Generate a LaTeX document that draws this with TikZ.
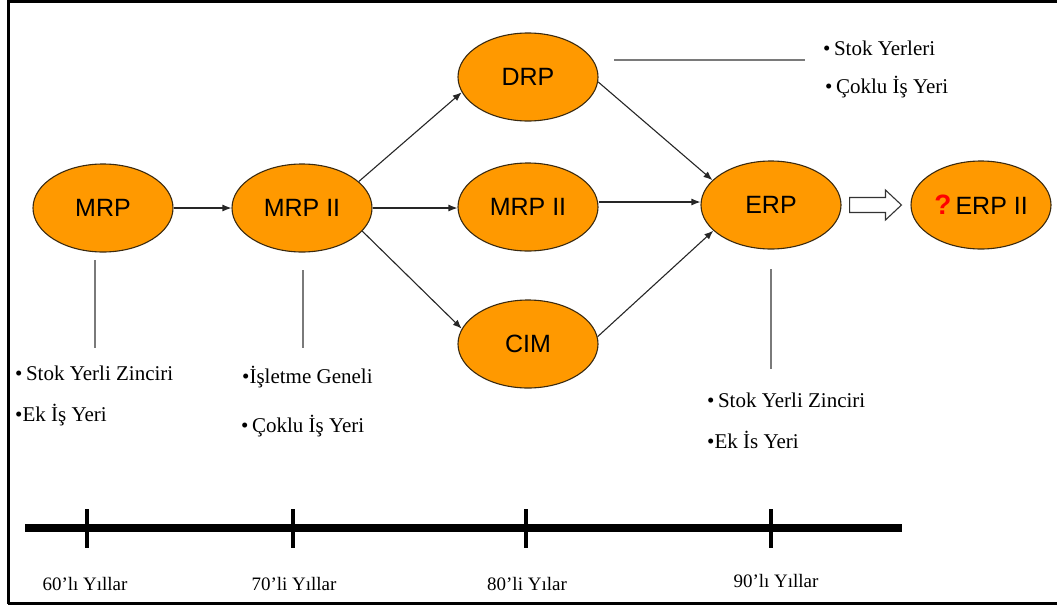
\documentclass[tikz,border=0pt]{standalone}
\usepackage{fontspec}
\setmainfont{Liberation Serif}
\newfontfamily\sansf{Liberation Sans}
\usetikzlibrary{shapes.geometric,arrows.meta,calc}
\definecolor{orng}{HTML}{FF9900}
\definecolor{edgeol}{HTML}{3A2A10}
\definecolor{lgray}{HTML}{7A7A7A}
\tikzset{
  oval/.style={ellipse, draw=edgeol, line width=1.1pt, fill=orng, minimum width=140pt, minimum height=88pt, inner sep=0pt, font=\sansf\fontsize{25}{25}\selectfont},
  arr/.style={-{Latex[length=9pt,width=7pt]}, line width=1.1pt, draw=black!85},
  gline/.style={draw=lgray, line width=1.8pt},
  note/.style={anchor=base west, inner sep=0pt, font=\fontsize{21}{21}\selectfont},
  year/.style={anchor=base, inner sep=0pt, font=\fontsize{19}{19}\selectfont},
  hollow/.style={draw=black!80, line width=1.1pt, fill=white, line join=miter},
  frame/.style={line width=3pt, draw=black},
  axis/.style={line width=8pt, draw=black},
  tick/.style={line width=4pt, draw=black}
}
\begin{document}
\begin{tikzpicture}[x=1pt,y=-1pt]
\useasboundingbox (0,0) rectangle (1057,608);
% frame
\draw[frame] (8,1) -- (1057,1);
\draw[frame] (8,0) -- (8,604);
\draw[frame] (8,603) -- (1057,603);

% nodes
\node[oval] (mrp) at (103,208) {MRP};
\node[oval] (mrp2) at (302,208) {MRP II};
\node[oval] (drp) at (528,77) {DRP};
\node[oval] (mid) at (528,207) {MRP II};
\node[oval] (cim) at (528,344) {CIM};
\node[oval] (erp) at (771,205) {ERP};
\node[oval] (erp2) at (981,205) {{\color{red}\bfseries\fontsize{28}{28}\selectfont ?}\,ERP II};

% hollow arrow between ERP and ERP II
\coordinate (ha) at ($(erp.east)+(8,0)$);
\coordinate (hb) at ($(erp2.west)+(-9,0)$);
\draw[hollow] ($(ha)+(0,-7.5)$) -- ($(hb)+(-16,-7.5)$) -- ($(hb)+(-16,-15)$) -- (hb)
  -- ($(hb)+(-16,15)$) -- ($(hb)+(-16,7.5)$) -- ($(ha)+(0,7.5)$) -- cycle;

% connectors
\draw[arr] (mrp.east) -- (mrp.east -| mrp2.west);
\draw[arr] (mrp2.25) -- (drp.193);
\draw[arr] (mrp2.east) -- (mrp2.east -| mid.west);
\draw[arr] (mrp2.-21) -- (cim.167);
\draw[arr] (drp.-4) -- (erp.157);
\draw[arr] ([yshift=5pt]mid.east) -- ([yshift=5pt]mid.east -| erp.west);
\draw[arr] (cim.6) -- (erp.204);

% gray lines
\coordinate (g1a) at (95,260); \coordinate (g1b) at (95,348);
\coordinate (g2a) at (303,270); \coordinate (g2b) at (303,348);
\coordinate (g3a) at (771,269); \coordinate (g3b) at (771,369);
\coordinate (g4a) at (614,60); \coordinate (g4b) at (805,60);
\draw[gline] (g1a) -- (g1b);
\draw[gline] (g2a) -- (g2b);
\draw[gline] (g3a) -- (g3b);
\draw[gline] (g4a) -- (g4b);

% notes
\node[note] (n1) at (15,380) {\textbullet\,Stok Yerli Zinciri};
\node[note] (n2) at (15,421) {\textbullet Ek İş Yeri};
\node[note] (n3) at (242,383) {\textbullet İşletme Geneli};
\node[note] (n4) at (241,432) {\textbullet\,Çoklu İş Yeri};
\node[note] (n5) at (823,55) {\textbullet\,Stok Yerleri};
\node[note] (n6) at (825,93) {\textbullet\,Çoklu İş Yeri};
\node[note] (n7) at (707,407) {\textbullet\,Stok Yerli Zinciri};
\node[note] (n8) at (707,448) {\textbullet Ek İs Yeri};

% timeline
\coordinate (ta) at (25,528); \coordinate (tb) at (902,528);
\draw[axis] (ta) -- (tb);
\foreach \x/\nm in {87/t1,293/t2,526/t3,771/t4}{
  \coordinate (\nm a) at (\x,509); \coordinate (\nm b) at (\x,548);
  \draw[tick] (\nm a) -- (\nm b);
}
\node[year] (y1) at (85,590) {60'lı Yıllar};
\node[year] (y2) at (294,590) {70'li Yıllar};
\node[year] (y3) at (527,590) {80'li Yılar};
\node[year] (y4) at (776,587) {90'lı Yıllar};
\end{tikzpicture}
\end{document}
